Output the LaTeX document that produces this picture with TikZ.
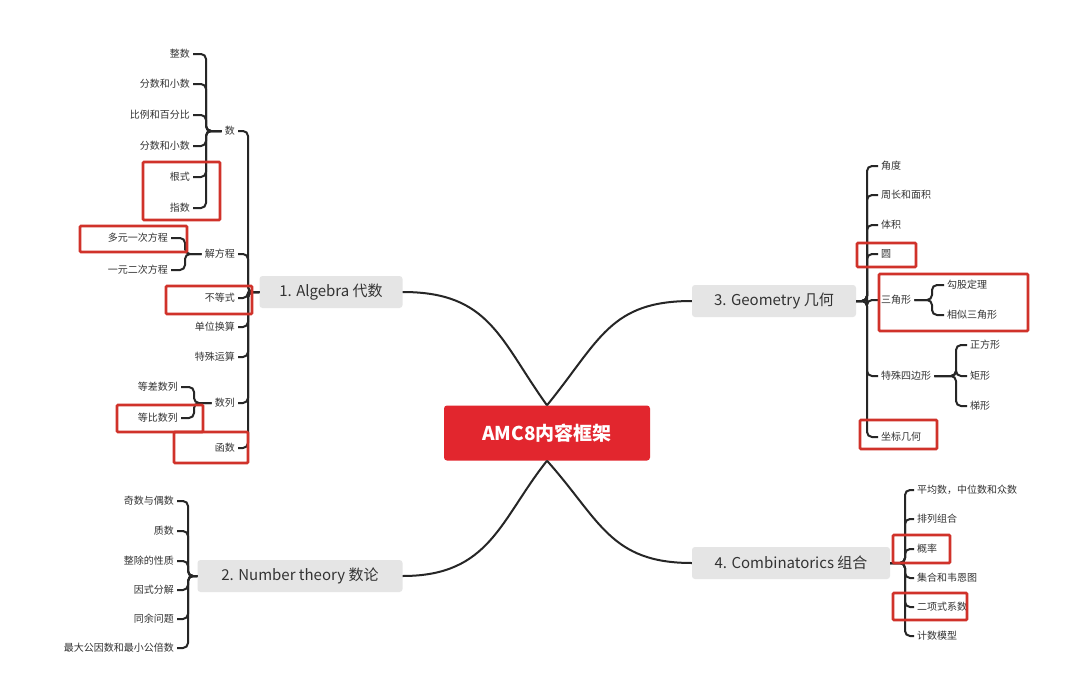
\documentclass[tikz,border=0pt]{standalone}
\usepackage{fontspec}
\setmainfont{Noto Sans CJK SC}
\definecolor{cred}{HTML}{E2262E}
\definecolor{hred}{HTML}{D0322A}
\begin{document}
\begin{tikzpicture}[x=1pt,y=-1pt,
 lf/.style={font=\fontsize{10}{11}\selectfont,text=black!80,inner sep=3pt},
 topic/.style={fill=black!10,rounded corners=3pt,font=\fontsize{15}{17}\selectfont,text=black!80,minimum height=32pt,inner xsep=4pt},
 br/.style={draw=black!85,line width=2pt,rounded corners=5pt},
 mainl/.style={draw=black!85,line width=2pt},
 hl/.style={draw=hred,line width=2.6pt,rounded corners=1pt}]
\useasboundingbox (0,0) rectangle (1080,675);
\fill[white] (0,0) rectangle (1080,675);
% center
\node[fill=cred,rounded corners=3pt,minimum width=206pt,minimum height=55pt,text=white,font=\fontsize{19}{21}\selectfont\bfseries] (c) at (547,433) {AMC8内容框架};
\node[topic,minimum width=143pt] (alg) at (331,292) {1. Algebra 代数};
\node[topic,minimum width=205pt] (nt) at (300,576) {2. Number theory 数论};
\node[topic,minimum width=164pt] (geo) at (774,301) {3. Geometry 几何};
\node[topic,minimum width=198pt] (com) at (791,563) {4. Combinatorics 组合};
\draw[mainl] (alg.east) .. controls (490,292) and (500,340) .. (c.north);
\draw[mainl] (nt.east) .. controls (490,576) and (500,520) .. (c.south);
\draw[mainl] (geo.west) .. controls (610,301) and (600,340) .. (c.north);
\draw[mainl] (com.west) .. controls (610,563) and (600,520) .. (c.south);
% Algebra children
\node[lf,anchor=east] (shu) at (238,131) {数};
\node[lf,anchor=east] (jfc) at (238,254) {解方程};
\node[lf,anchor=east] (bds) at (238,298) {不等式};
\node[lf,anchor=east] (dw) at (238,327) {单位换算};
\node[lf,anchor=east] (ts) at (238,357) {特殊运算};
\node[lf,anchor=east] (sl) at (238,403) {数列};
\node[lf,anchor=east] (hs) at (238,448) {函数};
\foreach \n in {shu,jfc,bds,dw,ts,sl,hs} \draw[br] (alg.west) -- (248,292) |- (\n.east);
% 数 children
\node[lf,anchor=east] (a1) at (193,54) {整数};
\node[lf,anchor=east] (a2) at (193,84) {分数和小数};
\node[lf,anchor=east] (a3) at (193,115) {比例和百分比};
\node[lf,anchor=east] (a4) at (193,146) {分数和小数};
\node[lf,anchor=east] (a5) at (193,177) {根式};
\node[lf,anchor=east] (a6) at (193,208) {指数};
\foreach \n in {a1,a2,a3,a4,a5,a6} \draw[br] (shu.west) -- (206,131) |- (\n.east);
\node[lf,anchor=east] (b1) at (171,238) {多元一次方程};
\node[lf,anchor=east] (b2) at (171,270) {一元二次方程};
\foreach \n in {b1,b2} \draw[br] (jfc.west) -- (185,254) |- (\n.east);
\node[lf,anchor=east] (s1) at (181,387) {等差数列};
\node[lf,anchor=east] (s2) at (181,418) {等比数列};
\foreach \n in {s1,s2} \draw[br] (sl.west) -- (194,403) |- (\n.east);
% Number theory
\node[lf,anchor=east] (n1) at (177,501) {奇数与偶数};
\node[lf,anchor=east] (n2) at (177,531) {质数};
\node[lf,anchor=east] (n3) at (177,561) {整除的性质};
\node[lf,anchor=east] (n4) at (177,590) {因式分解};
\node[lf,anchor=east] (n5) at (177,619) {同余问题};
\node[lf,anchor=east] (n6) at (177,648) {最大公因数和最小公倍数};
\foreach \n in {n1,n2,n3,n4,n5,n6} \draw[br] (nt.west) -- (188,576) |- (\n.east);
% Geometry
\node[lf,anchor=west] (g1) at (878,166) {角度};
\node[lf,anchor=west] (g2) at (878,195) {周长和面积};
\node[lf,anchor=west] (g3) at (878,225) {体积};
\node[lf,anchor=west] (g4) at (878,254) {圆};
\node[lf,anchor=west] (g5) at (878,300) {三角形};
\node[lf,anchor=west] (g6) at (878,376) {特殊四边形};
\node[lf,anchor=west] (g7) at (878,437) {坐标几何};
\foreach \n in {g1,g2,g3,g4,g5,g6,g7} \draw[br] (geo.east) -- (867,301) |- (\n.west);
\node[lf,anchor=west] (t1) at (944,285) {勾股定理};
\node[lf,anchor=west] (t2) at (944,315) {相似三角形};
\foreach \n in {t1,t2} \draw[br] (g5.east) -- (932,300) |- (\n.west);
\node[lf,anchor=west] (q1) at (967,345) {正方形};
\node[lf,anchor=west] (q2) at (967,376) {矩形};
\node[lf,anchor=west] (q3) at (967,406) {梯形};
\foreach \n in {q1,q2,q3} \draw[br] (g6.east) -- (956,376) |- (\n.west);
% Combinatorics
\node[lf,anchor=west] (k1) at (914,490) {平均数，中位数和众数};
\node[lf,anchor=west] (k2) at (914,519) {排列组合};
\node[lf,anchor=west] (k3) at (914,549) {概率};
\node[lf,anchor=west] (k4) at (914,578) {集合和韦恩图};
\node[lf,anchor=west] (k5) at (914,607) {二项式系数};
\node[lf,anchor=west] (k6) at (914,636) {计数模型};
\foreach \n in {k1,k2,k3,k4,k5,k6} \draw[br] (com.east) -- (905,563) |- (\n.west);
% highlight boxes
\draw[hl] (143,162) rectangle (220,220);
\draw[hl] (80,226) rectangle (187,252);
\draw[hl] (166,286) rectangle (252,314);
\draw[hl] (117,405) rectangle (203,432);
\draw[hl] (174,432) rectangle (248,463);
\draw[hl] (857,243) rectangle (916,267);
\draw[hl] (879,274) rectangle (1028,331);
\draw[hl] (860,420) rectangle (937,449);
\draw[hl] (893,535) rectangle (950,563);
\draw[hl] (893,593) rectangle (967,620);
\end{tikzpicture}
\end{document}
